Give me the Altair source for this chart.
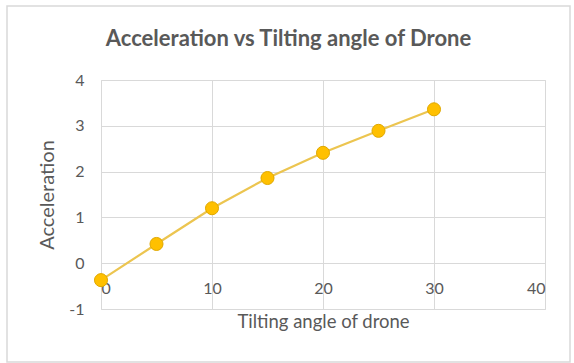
import altair as alt
import pandas as pd

angles = [0, 5, 10, 15, 20, 25, 30]
accel = [-0.37, 0.42, 1.2, 1.86, 2.41, 2.89, 3.36]

df = pd.DataFrame({"angle": angles, "accel": accel})

W, H = 444, 229
FONT = "Lato"
GRAY = "#595959"

x_enc = alt.X("angle:Q", scale=alt.Scale(domain=[0, 40], nice=False),
              axis=alt.Axis(values=[0, 10, 20, 30, 40], title="Tilting angle of drone",
                            offset=-H / 5, labelPadding=17, titlePadding=16,
                            domain=False, ticks=False, grid=True, gridColor="#d9d9d9",
                            labelFontSize=16, titleFontSize=18.5, titleFontWeight="normal",
                            labelColor=GRAY, titleColor=GRAY, labelFont=FONT, titleFont=FONT))
y_enc = alt.Y("accel:Q", scale=alt.Scale(domain=[-1, 4], nice=False),
              axis=alt.Axis(values=[-1, 0, 1, 2, 3, 4], title="Acceleration",
                            labelExpr="'' + datum.value",
                            domain=False, ticks=False, grid=True, gridColor="#d9d9d9",
                            labelPadding=17, titlePadding=11,
                            labelFontSize=16, titleFontSize=20, titleFontWeight="normal",
                            labelColor=GRAY, titleColor=GRAY, labelFont=FONT, titleFont=FONT))

border = alt.Chart(pd.DataFrame({"a": [0]})).mark_rect(
    fill=None, stroke="#d9d9d9", strokeWidth=1.5
).encode(x=alt.value(-94), x2=alt.value(W + 25), y=alt.value(-74), y2=alt.value(H + 53))

line = alt.Chart(df).mark_line(color="#ECC550", strokeWidth=2.2).encode(x=x_enc, y=y_enc)
pts = alt.Chart(df).mark_point(filled=True, color="#FFC000", size=170, opacity=1,
                               stroke="#E0A800", strokeWidth=1).encode(x="angle:Q", y="accel:Q")

chart = alt.layer(border, line, pts).properties(
    width=W, height=H,
    title=alt.TitleParams("Acceleration vs Tilting angle of Drone", fontSize=22, font=FONT,
                          fontWeight="bold", color=GRAY, anchor="middle", offset=-46,
                          frame="bounds"),
    autosize=alt.AutoSizeParams(type="none"),
    padding={"left": 101, "top": 80, "right": 29, "bottom": 54},
).configure_view(stroke=None).configure(background="white")

chart.save("out.html", embed_options={"renderer": "svg", "actions": False})
